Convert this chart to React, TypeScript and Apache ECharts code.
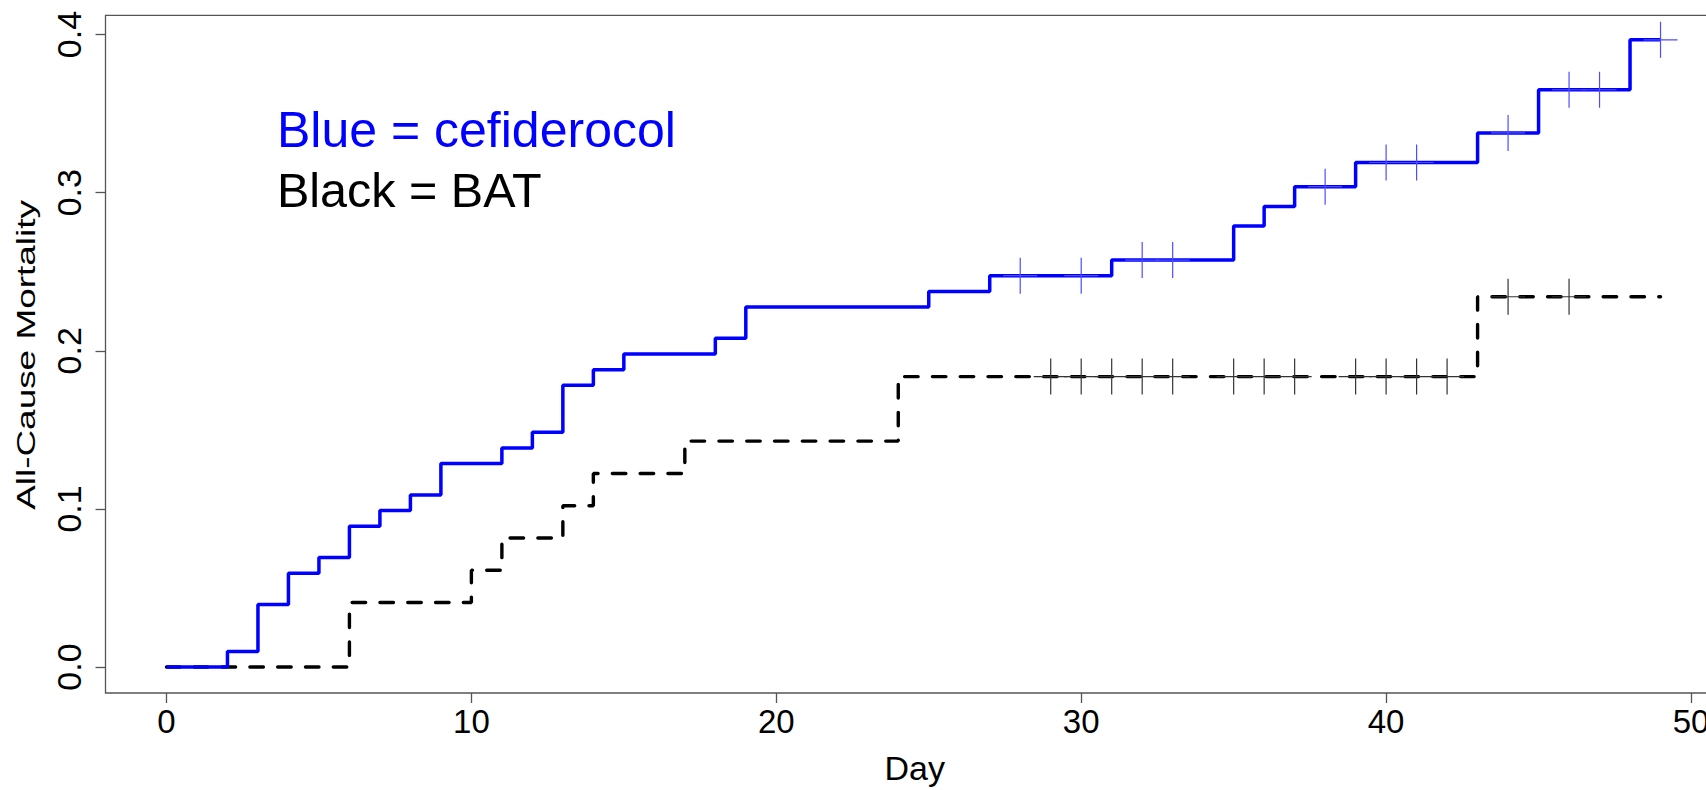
import React, { useEffect, useRef } from "react";
import * as echarts from "echarts";

const xTicks = [0, 10, 20, 30, 40, 50];
const yTicks = [0, 0.1, 0.2, 0.3, 0.4];

const cefDays = [0, 2, 3, 4, 5, 6, 7, 8, 9, 11, 12, 13, 14, 15, 18, 19, 25, 27, 31, 35, 36, 37, 39, 43, 45, 48, 49];
const cefMort = [0, 0.0099, 0.0396, 0.0594, 0.0693, 0.0891, 0.099, 0.1089, 0.1287, 0.1386, 0.1485, 0.1782, 0.1881, 0.198, 0.2079, 0.2277, 0.2376, 0.2475, 0.2574, 0.279, 0.2912, 0.3038, 0.3191, 0.3378, 0.3651, 0.3967, 0.3967];

const batDays = [0, 6, 10, 11, 13, 14, 17, 24, 43, 49];
const batMort = [0, 0.0408, 0.0612, 0.0816, 0.102, 0.1224, 0.1429, 0.1837, 0.2342, 0.2342];

const cefCensorDays = [28, 30, 32, 33, 38, 40, 41, 44, 46, 47, 49];
const cefCensorMort = [0.2475, 0.2475, 0.2574, 0.2574, 0.3038, 0.3191, 0.3191, 0.3378, 0.3651, 0.3651, 0.3967];

const batCensorDays = [29, 30, 31, 32, 33, 35, 36, 37, 39, 40, 41, 42, 44, 46];
const batCensorMort = [0.1837, 0.1837, 0.1837, 0.1837, 0.1837, 0.1837, 0.1837, 0.1837, 0.1837, 0.1837, 0.1837, 0.1837, 0.2342, 0.2342];

const FONT = "'Liberation Sans', Arial, sans-serif";

function zip(a: number[], b: number[]) {
  return a.map((v, i) => [v, b[i]]);
}

function censorSeries(days: number[], vals: number[], color: string) {
  return {
    type: "custom",
    data: zip(days, vals),
    encode: { x: 0, y: 1 },
    z: 5,
    renderItem: (params: any, api: any) => {
      const p = api.coord([api.value(0), api.value(1)]);
      return {
        type: "group",
        children: [
          { type: "line", shape: { x1: p[0], y1: p[1] - 18, x2: p[0], y2: p[1] + 18 }, style: { stroke: color, lineWidth: 1.2 } },
          { type: "line", shape: { x1: p[0] - 17, y1: p[1], x2: p[0] + 17, y2: p[1] }, style: { stroke: color, lineWidth: 1.2 } },
        ],
      };
    },
  };
}

export default function App() {
  const ref = useRef<HTMLDivElement>(null);
  useEffect(() => {
    document.body.style.margin = "0";
    document.body.style.overflow = "hidden";
    const chart = echarts.init(ref.current!, null, { renderer: "svg" });
    chart.setOption({
      animation: false,
      backgroundColor: "#ffffff",
      grid: { left: 105.5, top: 15.3, right: 48, bottom: 94.7, show: true, borderColor: "#555", borderWidth: 1.3, backgroundColor: "transparent" },
      xAxis: {
        type: "value",
        min: -2,
        max: 52,
        name: "Day",
        nameLocation: "middle",
        nameGap: 58,
        nameTextStyle: { fontFamily: FONT, fontSize: 34, color: "#000", padding: [0, 28, 0, 0] },
        axisLine: { show: false, onZero: false },
        splitLine: { show: false },
        axisTick: { show: true, length: 10, inside: false, customValues: xTicks, lineStyle: { color: "#555", width: 1.3 } },
        axisLabel: { customValues: xTicks, margin: 12, fontFamily: FONT, fontSize: 33, color: "#000" },
      },
      yAxis: {
        type: "value",
        min: -0.0164,
        max: 0.4122,
        axisLine: { show: false, onZero: false },
        splitLine: { show: false },
        axisTick: { show: true, length: 10, inside: false, customValues: yTicks, lineStyle: { color: "#555", width: 1.3 } },
        axisLabel: { customValues: yTicks, rotate: 90, margin: 20, fontFamily: FONT, fontSize: 34, color: "#000", formatter: (v: number) => v.toFixed(1) },
      },
      graphic: [
        { type: "text", left: 277, top: 105, style: { text: "Blue = cefiderocol", fontFamily: FONT, fontSize: 50, fill: "#0000ff" } },
        { type: "text", left: 277, top: 165, style: { text: "Black = BAT", fontFamily: FONT, fontSize: 48.5, fill: "#000000" } },
        {
          type: "text",
          x: 26,
          y: 355,
          rotation: Math.PI / 2,
          scaleX: 1.42,
          scaleY: 1,
          style: { text: "All-Cause Mortality", fontFamily: FONT, fontSize: 26, fill: "#000", align: "center", verticalAlign: "middle" },
        },
      ],
      series: [
        {
          type: "line",
          step: "end",
          data: zip(batDays, batMort),
          showSymbol: false,
          symbol: "none",
          lineStyle: { color: "#000", width: 3.4, type: [13.5, 14.3], cap: "round" },
          z: 2,
        },
        censorSeries(batCensorDays, batCensorMort, "#333"),
        {
          type: "line",
          step: "end",
          data: zip(cefDays, cefMort),
          showSymbol: false,
          symbol: "none",
          lineStyle: { color: "#0000ff", width: 3.5 },
          z: 3,
        },
        censorSeries(cefCensorDays, cefCensorMort, "#4d4dff"),
      ],
    });
    return () => chart.dispose();
  }, []);
  return <div ref={ref} style={{ position: "fixed", left: 0, top: 0, width: 1800, height: 790 }} />;
}
